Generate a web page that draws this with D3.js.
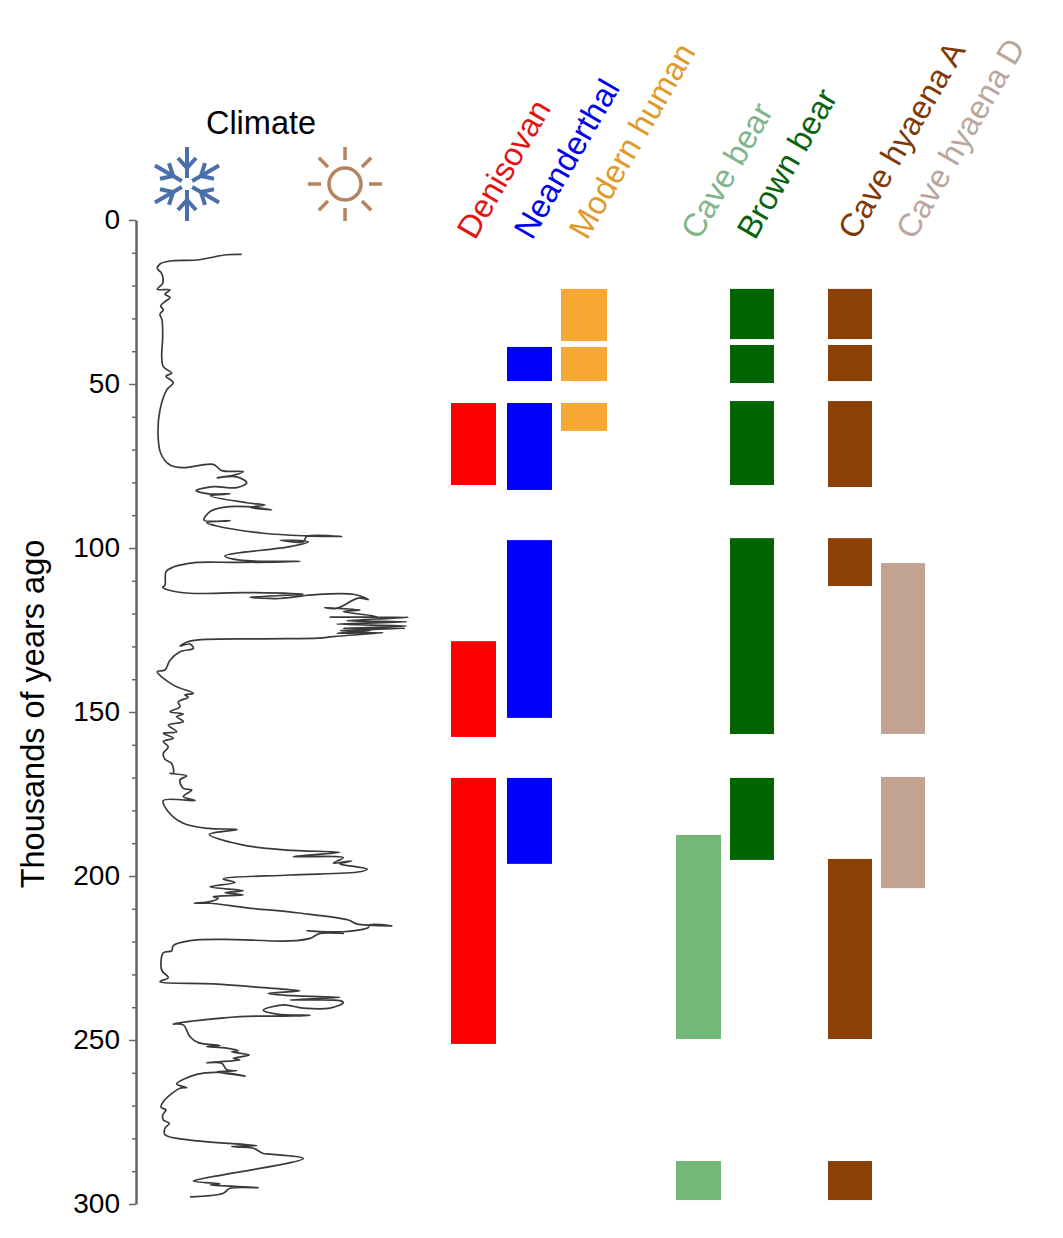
<!DOCTYPE html>
<html>
<head>
<title>Climate and hominin / fauna occupation</title>
<meta charset="UTF-8">
<style>
  html, body { margin: 0; padding: 0; background: #fff; }
  svg { display: block; }
  text { font-family: "Liberation Sans", Arial, sans-serif; }
</style>
</head>
<body>
<svg id="chart" width="1063" height="1238"></svg>

<script src="https://d3js.org/d3.v7.min.js"></script>
<script>
// climate curve: age in ka, relative warmth index
const climateAge = [
  10.5,10.6,12.2,12.5,13.4,14.7,16.3,19.3,21.1,21.3,22.6,23.6,24.9,26.2,27.4,28.7,30.5,35.6,41.7,44.7,
  46.7,47.6,49.6,51.8,57.9,65,71.1,74.7,75.5,74.5,76.4,76.7,77.7,78.6,78.3,80.1,81.6,81.3,82.5,83.5,
  83.5,84.1,86.2,86.9,87.6,88.4,87.4,87.6,88.9,91.5,91.7,92.3,93.3,95.5,96.3,96.5,96.5,98.1,97.6,98.1,
  99.6,102.4,103.7,104.1,104.4,104.4,105.2,105.8,107.2,111.3,112,112.8,113.8,113.6,114.1,115,115.4,114.3,114.1,115.7,
  115.3,118.4,118.2,118.9,119.4,120.9,121.1,121.1,122.2,122.5,123.2,123.8,124.5,124.5,125.2,125.2,126,125.8,127,127.5,
  127.7,128.4,129.9,129.3,130.6,131.6,134.2,137.2,137.7,141.8,144.3,144.8,145.5,146.9,148.4,149.9,150.6,151.4,152.9,154,
  156,156.5,158,159,160.6,162.6,164.4,165.7,168.7,168.7,169.5,170.7,173.3,173.8,175.8,177,177,180.4,183.9,185.5,
  185.8,187.3,190.6,192.1,192.8,194.1,194.4,196.1,195.4,196.3,197.2,197.9,198.7,199.7,200.9,202,203.3,204.5,205.1,205.8,
  206.3,206.8,207.8,208.3,208.3,209.7,211.2,213.4,214.6,215.2,214.9,215.7,217,216.7,217.5,217.5,219,219.8,219.3,219.7,
  221.2,222.8,223.4,228.7,231,232.2,232.9,234.2,235,235.8,236.5,237,237.8,238,238.6,240.3,240.3,239.3,240.9,242.1,
  242.5,242.7,242.9,245.1,245.4,249,250.8,251.7,252,252.5,253.3,253.6,254.6,255.6,256.1,256.9,257.1,259.1,259.4,259.7,
  261,259.9,260.5,263.4,264.5,264.7,268.8,270.5,271.3,272.9,274.4,275.4,276.9,278.9,280.5,282.2,282.5,283,284.6,284.8,
  286.1,292,293,293.9,294.2,295,295.2,296.7,297.8
];
const climateIndex = [
  111.7,96.7,66.7,40,30,27.3,31.7,32.7,27.3,40,35,40,35,30.7,33.3,30,32,32.7,31.7,33.3,
  41.7,36,43.3,36.7,30,28,30.7,40,53.3,83.3,91.7,113.3,105,87.3,106.7,116.7,106.7,83.3,66,78.3,
  100,80,116.7,135,120,141.7,116.7,93.3,80,74,100,76.7,86.7,133.3,176.7,211.7,176.7,173.3,150,178.3,
  160,95,110,170,110,66.7,50,43.3,36,35,32.7,38.3,60,116.7,173.3,120,150,181.7,223.3,238.3,
  228.3,206.7,195,230,213.3,246.7,200,278.3,216.7,276.7,206.7,276.7,213.3,275,210,240,206.7,253.3,203.3,188.3,
  133.3,60,50,60,63.3,50,40,35,27.3,43.3,63.3,55,58.3,48.3,50,40,53.3,46.7,53.3,38.3,
  46.7,33.3,43.3,33.3,38.3,33.3,35,41.7,43.3,40,56.7,50,53.3,61.7,53.3,65,33.3,38.3,53.3,78.3,
  107.3,79.3,113.3,156.7,210,163.3,213.3,203.3,221.7,210,226.7,237.3,230,160,93.3,105,80,113.3,95,113.3,
  83.3,88.3,80,64,80,116.7,166.7,218.3,226.7,261.7,240,238.3,213.3,176.7,213.3,190,180,160,93.3,60,
  43.3,41.7,33.3,31.7,38.3,30,83.3,140,170,138.3,163.3,210,160,210,213.3,200,173.3,153.3,133.3,146.7,
  180,153.3,110,43.3,53.3,60,68.3,90,76.7,96.7,108.3,101.7,119.3,103.3,110,76.7,91.7,96.7,106.7,86.7,
  115,90,66.7,46.7,56.7,50,33.3,31,36,32.7,33.3,39.3,35,35,60,126.7,101.7,123.3,133.3,140,
  173.3,76.7,63.3,90,80,128.3,100,93.3,60
];

// presence intervals in ka, one list per taxon
const species = ["Denisovan", "Neanderthal", "Modern human", "Cave bear", "Brown bear", "Cave hyaena A", "Cave hyaena D"];
const speciesColor = ["#ff0000", "#0000ff", "#f7a833", "#74b878", "#006400", "#8b4106", "#c2a392"];
const labelColor = ["#e01515", "#0000ee", "#e09a2a", "#7fb58a", "#0a640f", "#7f3a08", "#b9a69e"];
const denisovan = [[55.8, 80.8], [128.4, 157.6], [170.1, 251.2]];
const neanderthal = [[38.7, 49.1], [55.8, 82.3], [97.6, 151.8], [170.1, 196.3]];
const modernHuman = [[21, 36.9], [38.7, 49.1], [55.8, 64.3]];
const caveBear = [[187.5, 249.7], [286.9, 298.8]];
const brownBear = [[21, 36.3], [38.1, 49.7], [55.2, 80.8], [97, 156.7], [170.1, 195.1]];
const caveHyaenaA = [[21, 36.3], [38.1, 49.1], [55.2, 81.4], [97, 111.6], [194.8, 249.7], [286.9, 298.8]];
const caveHyaenaD = [[104.6, 156.7], [169.8, 203.7]];
const intervals = [denisovan, neanderthal, modernHuman, caveBear, brownBear, caveHyaenaA, caveHyaenaD];

const yTicks = [0, 50, 100, 150, 200, 250, 300];

const svg = d3.select("#chart");

const y = d3.scaleLinear().domain([0, 300]).range([220, 1204]);
const x = d3.scaleLinear().domain([0, 290]).range([130, 420]);
const colLeft = d3.scaleOrdinal().domain(species).range([451, 507, 561, 676, 730, 828, 881]);
const colWidth = d3.scaleOrdinal().domain(species).range([45, 45, 46, 45, 44, 44, 44]);

// axis: minor tick every 10, labels every 50
const axis = d3.axisLeft(y)
  .tickValues(d3.range(0, 301, 10))
  .tickSizeOuter(0)
  .tickFormat(d => yTicks.includes(d) ? d : "");

const gAxis = svg.append("g").attr("transform", "translate(136,0)").call(axis);
gAxis.select(".domain").attr("stroke", "#666").attr("stroke-width", 2.5);
gAxis.selectAll(".tick line")
  .attr("stroke", "#666")
  .attr("stroke-width", 1.5)
  .attr("x2", d => yTicks.includes(d) ? -7 : -4);
gAxis.selectAll(".tick text")
  .attr("x", -16)
  .attr("dy", "0.3em")
  .attr("fill", "#000")
  .style("font-size", "28px")
  .style("font-family", '"Liberation Sans", Arial, sans-serif');

svg.append("text")
  .attr("transform", "translate(44,714) rotate(-90)")
  .attr("text-anchor", "middle")
  .attr("font-size", 32.5)
  .text("Thousands of years ago");

// climate curve
const line = d3.line()
  .x((d, i) => x(climateIndex[i]))
  .y(d => y(d))
  .curve(d3.curveCatmullRom.alpha(0.5));

svg.append("path")
  .datum(climateAge)
  .attr("fill", "none")
  .attr("stroke", "#3a3a3a")
  .attr("stroke-width", 1.7)
  .attr("stroke-linejoin", "round")
  .attr("d", line);

svg.append("text")
  .attr("x", 261)
  .attr("y", 134)
  .attr("text-anchor", "middle")
  .attr("font-size", 32.5)
  .text("Climate");

// sun
const sun = svg.append("g")
  .attr("transform", "translate(345,184)")
  .attr("stroke", "#b5835f")
  .attr("stroke-width", 3.5)
  .attr("fill", "none");
sun.append("circle").attr("r", 16);
d3.range(8).forEach(i => {
  sun.append("line")
    .attr("y1", -24).attr("y2", -37)
    .attr("transform", `rotate(${i * 45})`);
});

// snowflake
const flake = svg.append("g")
  .attr("transform", "translate(187,184)")
  .attr("stroke", "#4a6fa8")
  .attr("stroke-width", 4)
  .attr("fill", "none");
d3.range(6).forEach(i => {
  const arm = flake.append("g").attr("transform", `rotate(${i * 60})`);
  arm.append("line").attr("y1", -6).attr("y2", -37);
  arm.append("path").attr("d", "M-9,-26L0,-16L9,-26");
});

// presence bars
species.forEach((s, i) => {
  svg.append("g")
    .selectAll("rect")
    .data(intervals[i])
    .join("rect")
    .attr("x", colLeft(s))
    .attr("width", colWidth(s))
    .attr("y", d => y(d[0]))
    .attr("height", d => y(d[1]) - y(d[0]))
    .attr("fill", speciesColor[i]);
});

// slanted taxon labels
const labelX = d3.scaleOrdinal().domain(species).range([475, 532, 587, 699, 755, 856, 914]);
svg.append("g")
  .selectAll("text")
  .data(species)
  .join("text")
  .attr("transform", d => `translate(${labelX(d)},241) rotate(-60)`)
  .attr("font-size", 32.5)
  .attr("fill", (d, i) => labelColor[i])
  .text(d => d);
</script>
</body>
</html>
